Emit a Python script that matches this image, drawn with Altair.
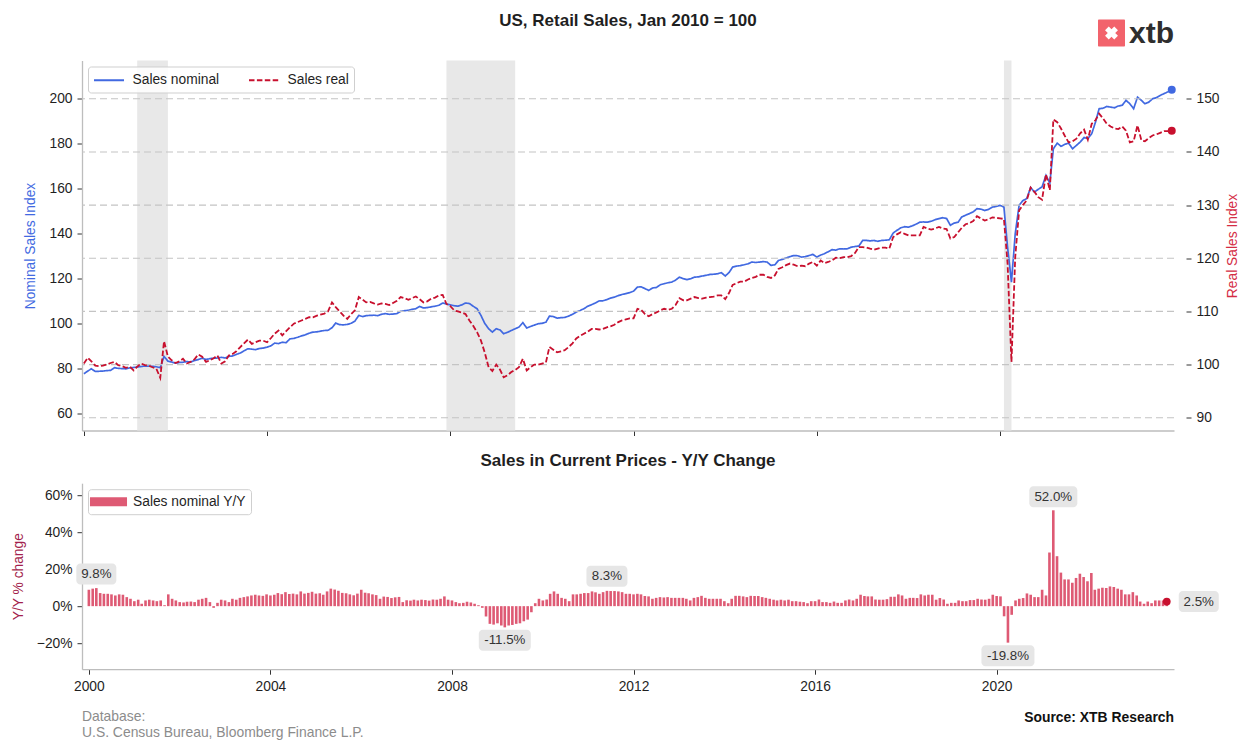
import altair as alt
import pandas as pd

# ---------------- data ----------------
# Nominal retail sales index (Jan 2010 = 100), monthly Jan 2000 .. Oct 2023
NOMINAL = [
    77.6, 78.8, 79.8, 78.6, 78.7, 78.8, 79.0, 79.1, 80.3, 80.0, 79.9, 79.8,          # 2000
    80.2, 80.4, 80.6, 80.8, 81.0, 81.0, 80.9, 80.7, 80.3, 85.3, 83.2, 82.8,          # 2001
    82.3, 82.6, 82.7, 83.0, 82.8, 83.5, 83.9, 84.5, 83.9, 84.3, 84.5, 84.6,          # 2002
    84.9, 84.6, 85.3, 85.5, 86.2, 86.8, 87.8, 88.7, 88.5, 88.3, 88.8, 89.0,          # 2003
    89.4, 90.0, 91.2, 91.0, 91.6, 91.4, 93.1, 93.3, 93.8, 94.4, 94.9, 95.6,          # 2004
    96.1, 96.2, 96.5, 96.8, 96.9, 98.0, 100.1, 99.4, 99.3, 99.5, 100.0, 101.0,       # 2005
    103.5, 103.0, 103.4, 103.5, 103.6, 103.4, 104.0, 104.3, 104.0, 104.1, 104.3, 105.3,  # 2006
    105.6, 105.8, 106.2, 106.5, 107.5, 106.8, 107.0, 107.3, 107.6, 108.0, 109.0, 108.6,  # 2007
    108.2, 107.8, 107.6, 108.2, 109.0, 108.8, 107.6, 106.5, 103.5, 100.0, 97.6, 96.1,    # 2008
    97.6, 97.0, 95.4, 96.0, 96.8, 97.6, 98.3, 100.3, 97.9, 98.6, 99.2, 99.8,             # 2009
    100.0, 100.5, 103.2, 103.0, 102.3, 102.5, 102.6, 103.2, 104.0, 105.0, 105.7, 106.5,  # 2010
    107.6, 108.3, 109.0, 109.9, 110.0, 110.5, 111.2, 111.6, 112.3, 112.8, 113.2, 113.6,  # 2011
    114.3, 116.1, 116.2, 115.4, 114.6, 115.7, 115.9, 117.1, 117.6, 118.0, 118.3, 119.2,  # 2012
    120.5, 119.8, 119.4, 119.8, 120.5, 120.6, 121.0, 121.3, 121.7, 121.8, 122.0, 122.5,  # 2013
    121.0, 122.6, 125.0, 125.4, 125.6, 126.0, 126.4, 127.2, 127.0, 127.2, 127.4, 127.2,  # 2014
    125.7, 126.0, 127.9, 128.4, 129.0, 129.6, 130.1, 130.0, 129.4, 129.6, 130.1, 130.6,  # 2015
    129.4, 130.3, 130.9, 131.8, 132.7, 132.5, 133.1, 133.0, 133.1, 133.8, 134.1, 134.3,  # 2016
    136.8, 136.8, 136.6, 136.8, 136.4, 136.8, 136.9, 137.1, 140.1, 141.3, 142.4, 142.9,  # 2017
    142.7, 143.3, 144.0, 144.9, 145.0, 144.9, 145.3, 146.0, 146.5, 146.9, 146.5, 143.5,  # 2018
    144.5, 144.9, 147.2, 148.0, 148.7, 149.5, 150.9, 150.7, 150.1, 150.6, 151.6, 151.9,  # 2019
    152.4, 151.6, 133.8, 118.3, 139.8, 152.4, 154.5, 155.4, 160.3, 158.3, 159.5, 160.6,  # 2020
    165.7, 162.3, 177.5, 180.0, 178.6, 179.5, 180.0, 177.5, 179.0, 180.5, 182.5, 182.0,  # 2021
    184.2, 189.5, 195.3, 195.5, 196.3, 196.0, 195.7, 196.5, 196.8, 199.0, 197.5, 195.3,  # 2022
    200.4, 199.0, 197.5, 198.2, 199.7, 200.2, 201.2, 202.0, 202.8, 203.7,                # 2023
]

# Real retail sales index (right axis)
REAL = [
    100.2, 101.3, 100.6, 99.8, 99.7, 99.8, 100.0, 100.3, 100.5, 99.9, 99.7, 99.4,     # 2000
    99.6, 98.9, 99.6, 100.2, 99.9, 99.8, 99.5, 99.2, 97.5, 104.4, 101.5, 100.8,       # 2001
    100.3, 100.6, 101.1, 100.2, 100.5, 101.0, 101.9, 101.5, 100.5, 100.8, 101.2, 101.7,  # 2002
    100.2, 100.6, 101.7, 102.0, 102.5, 103.3, 104.0, 104.7, 103.9, 104.2, 104.5, 104.5,  # 2003
    104.2, 105.0, 105.8, 106.4, 105.5, 106.3, 107.0, 107.7, 108.0, 108.3, 108.6, 108.9,  # 2004
    108.9, 109.2, 109.4, 109.6, 110.0, 111.7, 110.8, 110.0, 109.2, 108.6, 109.5, 110.2,  # 2005
    112.7, 112.2, 111.7, 111.8, 111.5, 111.3, 111.5, 111.4, 111.2, 111.6, 112.0, 112.7,  # 2006
    112.5, 112.2, 112.5, 112.8, 112.3, 111.7, 111.9, 112.4, 112.6, 113.0, 113.1, 111.4,  # 2007
    111.0, 110.2, 110.0, 109.8, 109.5, 108.3, 107.3, 106.1, 104.5, 102.3, 99.5, 98.8,    # 2008
    100.0, 99.0, 97.6, 98.0, 98.6, 99.0, 99.5, 101.1, 98.9, 99.5, 100.0, 100.0,          # 2009
    100.2, 100.4, 103.3, 102.8, 102.3, 102.5, 102.7, 103.3, 104.0, 104.9, 105.4, 105.8,  # 2010
    106.2, 106.7, 106.7, 106.6, 106.7, 107.0, 107.2, 107.5, 108.0, 108.3, 108.5, 108.7,  # 2011
    108.7, 110.5, 110.3, 109.5, 109.1, 109.5, 109.8, 110.2, 110.5, 110.3, 110.5, 111.2,  # 2012
    112.5, 112.1, 112.1, 112.4, 112.7, 112.5, 112.4, 112.6, 112.7, 112.8, 113.0, 113.0,  # 2013
    112.3, 113.5, 115.0, 115.3, 115.6, 115.6, 116.0, 116.3, 116.5, 116.9, 116.9, 116.5,  # 2014
    116.3, 116.8, 118.0, 118.3, 118.7, 119.0, 118.8, 118.5, 118.6, 118.5, 119.0, 119.3,  # 2015
    118.6, 119.6, 119.1, 119.3, 119.6, 120.1, 120.0, 120.2, 120.2, 120.4, 121.0, 122.1,  # 2016
    122.1, 122.0, 121.8, 121.6, 121.8, 122.0, 122.0, 121.8, 124.0, 124.5, 124.9, 124.6,  # 2017
    124.3, 124.3, 124.3, 124.3, 125.9, 125.6, 125.4, 125.6, 125.9, 125.6, 125.5, 123.7,  # 2018
    124.0, 124.9, 125.7, 126.4, 126.6, 127.0, 127.9, 127.5, 127.1, 127.3, 127.7, 127.6,  # 2019
    127.5, 127.4, 119.0, 100.5, 120.2, 129.0, 130.0, 130.9, 133.3, 132.5, 131.5, 131.0,  # 2020
    135.8, 132.8, 146.1, 145.6, 144.4, 143.0, 141.8, 142.0, 142.5, 143.5, 144.2, 142.3,  # 2021
    145.3, 146.0, 147.2, 146.3, 145.3, 144.8, 144.4, 144.3, 144.8, 144.0, 141.8, 142.0,  # 2022
    145.0, 142.2, 142.0, 142.6, 143.1, 143.3, 143.6, 143.9, 143.9, 144.0,                # 2023
]

# Nominal sales, year-over-year change in %
YOY = [
    8.9, 9.5, 9.8, 7.1, 6.7, 6.7, 6.4, 5.8, 6.4, 6.2, 4.9, 4.0,            # 2000
    2.7, 3.5, 1.3, 3.1, 3.5, 3.1, 2.7, 3.1, 0.5, 6.4, 4.0, 3.1,            # 2001
    2.2, 2.0, 2.4, 2.5, 2.2, 3.5, 4.0, 4.5, 2.2, -0.9, 1.8, 3.5,           # 2002
    3.1, 2.2, 4.0, 3.5, 4.5, 4.9, 5.3, 5.8, 6.2, 5.8, 5.6, 6.4,            # 2003
    5.8, 6.2, 7.1, 6.5, 7.6, 6.6, 6.8, 6.4, 8.0, 6.8, 7.2, 7.8,            # 2004
    6.8, 7.0, 6.2, 8.0, 9.5, 9.0, 8.4, 7.2, 7.0, 6.4, 5.9, 6.8,            # 2005
    8.9, 7.3, 7.0, 6.4, 6.0, 4.0, 5.2, 5.0, 4.4, 4.8, 5.0, 2.2,            # 2006
    3.2, 3.0, 3.5, 3.1, 3.5, 3.3, 3.0, 3.6, 3.5, 4.0, 5.3, 3.5,            # 2007
    3.1, 2.2, 1.6, 1.8, 2.4, 2.0, 1.3, 0.5, -0.9, -5.6, -9.6, -10.0,       # 2008
    -9.3, -10.5, -11.5, -10.5, -10.2, -9.6, -9.3, -8.2, -7.3, -3.3, 1.6, 4.0,  # 2009
    3.1, 3.6, 6.7, 8.0, 6.7, 4.5, 4.0, 2.7, 6.4, 6.4, 6.7, 7.1,            # 2010
    7.1, 8.0, 7.5, 6.7, 7.6, 8.3, 8.2, 8.2, 8.0, 7.6, 6.7, 6.7,            # 2011
    6.4, 6.7, 6.4, 5.5, 5.3, 4.0, 4.5, 4.9, 4.7, 4.9, 4.5, 4.5,            # 2012
    4.5, 4.5, 4.0, 3.1, 4.5, 4.9, 5.6, 4.5, 4.0, 4.0, 4.0, 4.0,            # 2013
    2.7, 1.6, 4.0, 5.6, 5.6, 5.3, 4.9, 5.6, 5.5, 5.5, 4.9, 4.5,            # 2014
    4.0, 3.5, 3.1, 3.5, 3.1, 3.5, 2.7, 2.7, 2.4, 2.2, 1.6, 2.7,            # 2015
    2.7, 3.6, 2.2, 2.2, 1.8, 2.5, 1.8, 1.8, 3.1, 3.6, 3.1, 4.0,            # 2016
    6.2, 5.5, 5.3, 5.3, 3.6, 3.5, 3.5, 3.8, 5.1, 5.1, 6.4, 5.8,            # 2017
    4.0, 4.5, 4.5, 4.4, 6.4, 5.8, 6.2, 6.2, 3.5, 4.4, 3.6, 1.3,            # 2018
    1.8, 1.8, 3.1, 2.7, 2.7, 3.3, 3.3, 4.0, 3.6, 3.5, 4.0, 6.2,            # 2019
    5.5, 5.3, -5.5, -19.8, -4.7, 3.1, 4.0, 4.4, 6.9, 6.2, 4.9, 4.9,        # 2020
    8.9, 5.8, 29.1, 52.0, 27.1, 18.2, 14.5, 14.5, 12.7, 15.3, 17.6, 15.8,  # 2021
    13.5, 18.0, 8.9, 9.5, 10.0, 9.8, 10.7, 10.4, 9.5, 8.9, 6.4, 6.4,       # 2022
    7.6, 5.8, 2.5, 1.3, 2.5, 1.6, 3.1, 3.1, 3.1, 2.5,                      # 2023
]

MONTHS = [f"{2000 + i // 12}-{i % 12 + 1:02d}-01" for i in range(len(NOMINAL))]

RECESSION_START = ["2001-03-01", "2007-12-01", "2020-02-01"]
RECESSION_END = ["2001-11-01", "2009-06-01", "2020-04-01"]

LEFT_TICKS = [60, 80, 100, 120, 140, 160, 180, 200]
RIGHT_TICKS = [90, 100, 110, 120, 130, 140, 150]
YOY_TICKS = [-20, 0, 20, 40, 60]
X_TICK_YEARS = [2000, 2004, 2008, 2012, 2016, 2020]

SERIES_TOP = ["Sales nominal", "Sales real"]
SERIES_BOT = ["Sales nominal Y/Y"]

# months whose Y/Y value is labelled
ANNOT_IDX = [2, 110, 137, 243, 255, 285]

TITLE = "US, Retail Sales, Jan 2010 = 100"
SUBTITLE = "Sales in Current Prices - Y/Y Change"
FOOT_1 = "Database:"
FOOT_2 = "U.S. Census Bureau, Bloomberg Finance L.P."
SOURCE = "Source: XTB Research"

# ---------------- styling ----------------
FONT = "Liberation Sans"
W = 1092
H_TOP = 370
H_BOT = 186
BLUE = "#4169e1"
RED = "#c8102e"
BAR = "#de5a74"
ANNOT_DX = [0, 0, 0, 0, 0, 32]
ANNOT_DY = [-14, 13, -14.5, 13, -13.5, 0]
ANNOT_W = [40, 52, 41, 53, 48, 40]

df = pd.DataFrame({"date": MONTHS, "nominal": NOMINAL, "real": REAL, "yoy": YOY})
df_nom = df.assign(series=SERIES_TOP[0])
df_real = df.assign(series=SERIES_TOP[1])
df_bar = df.assign(series=SERIES_BOT[0])

x_scale = alt.Scale(
    type="utc",
    domain=[alt.DateTime(year=1999, month=12, date=17, utc=True),
            alt.DateTime(year=2023, month=10, date=19, utc=True)],
)
x_vals = [alt.DateTime(year=y, month=1, date=1, utc=True) for y in X_TICK_YEARS]

top_x_axis = alt.Axis(values=x_vals, labels=False, title=None, grid=False, tickSize=5)
bot_x_axis = alt.Axis(values=x_vals, format="%Y", title=None, grid=False, tickSize=5,
                      labelPadding=5, labelFlush=False)

# ---------------- top panel ----------------
y_nom = alt.Y(
    "nominal:Q",
    scale=alt.Scale(domain=[52.4, 216.7], nice=False, zero=False),
    axis=alt.Axis(orient="left", values=LEFT_TICKS, title="Nominal Sales Index",
                  titleColor=BLUE, titlePadding=11, grid=False, tickSize=5, labelPadding=5),
)
real_scale = alt.Scale(domain=[87.6, 157.2], nice=False, zero=False)
real_axis = alt.Axis(orient="right", values=RIGHT_TICKS, title="Real Sales Index",
                     titleColor="#d42c44", titleAngle=270, titleBaseline="top",
                     titlePadding=6, offset=12, domain=False, grid=False, tickSize=5,
                     labelPadding=5)

leg_top = alt.Legend(title=None, orient="top-left", direction="horizontal", offset=6,
                     padding=5, strokeColor="#cfcfcf", fillColor="rgba(255,255,255,0.85)",
                     cornerRadius=3, symbolType="M-2,0H2", symbolSize=225,
                     symbolStrokeWidth=2, symbolOffset=7.5, labelFontSize=13.8,
                     labelColor="#1f1f1f", labelOffset=15, columnPadding=25)
color_top = alt.Color("series:N", scale=alt.Scale(domain=SERIES_TOP, range=[BLUE, RED]),
                      legend=leg_top)
dash_top = alt.StrokeDash("series:N",
                          scale=alt.Scale(domain=SERIES_TOP, range=[[1, 0], [5.5, 2.4]]),
                          legend=leg_top)

shade = alt.Chart(pd.DataFrame({"start": RECESSION_START, "end": RECESSION_END})).mark_rect(
    color="#e8e8e8").encode(
    x=alt.X("start:T", scale=x_scale, axis=top_x_axis), x2="end:T",
    y=alt.value(0), y2=alt.value(H_TOP))

nom_line = alt.Chart(df_nom).mark_line(strokeWidth=1.7).encode(
    x=alt.X("date:T", scale=x_scale, axis=top_x_axis), y=y_nom,
    color=color_top, strokeDash=dash_top)
nom_dot = alt.Chart(df_nom.tail(1)).mark_circle(size=64, opacity=1).encode(
    x=alt.X("date:T", scale=x_scale, axis=top_x_axis), y=y_nom, color=alt.value(BLUE))

grid = alt.Chart(pd.DataFrame({"tick": RIGHT_TICKS})).mark_rule(
    color="#c4c4c4", strokeWidth=1.1, strokeDash=[7, 4]).encode(
    y=alt.Y("tick:Q", scale=real_scale, axis=real_axis))
real_line = alt.Chart(df_real).mark_line(strokeWidth=1.8).encode(
    x=alt.X("date:T", scale=x_scale, axis=top_x_axis),
    y=alt.Y("real:Q", scale=real_scale, axis=real_axis),
    color=color_top, strokeDash=dash_top)
real_dot = alt.Chart(df_real.tail(1)).mark_circle(size=64, opacity=1).encode(
    x=alt.X("date:T", scale=x_scale, axis=top_x_axis),
    y=alt.Y("real:Q", scale=real_scale, axis=real_axis), color=alt.value(RED))


def txt(text, x, y, size=13, weight="normal", color="#1f1f1f", align="left",
        baseline="alphabetic"):
    return alt.Chart(pd.DataFrame({"t": [text]})).mark_text(
        align=align, baseline=baseline, fontSize=size, fontWeight=weight,
        color=color, font=FONT).encode(x=alt.value(x), y=alt.value(y), text="t:N")


title_txt = txt(TITLE, W / 2, -35, size=17, weight="bold", align="center")
logo_box = alt.Chart(pd.DataFrame({"t": ["xtb"]})).mark_rect(
    color="#f2636c", cornerRadius=1).encode(
    x=alt.value(1016), x2=alt.value(1043), y=alt.value(-41), y2=alt.value(-14))
logo_icon = alt.Chart(pd.DataFrame({"t": ["xtb"]})).mark_point(
    shape="cross", angle=45, filled=True, size=170, color="white", opacity=1).encode(
    x=alt.value(1029.5), y=alt.value(-27.5))
logo_txt = txt("xtb", 1047, -18, size=30, weight="bold", color="#2e2e2e")

top = alt.layer(
    shade,
    alt.layer(nom_line, nom_dot),
    alt.layer(grid, real_line, real_dot),
    title_txt, logo_box, logo_icon, logo_txt,
).resolve_scale(y="independent").properties(width=W, height=H_TOP)

# ---------------- bottom panel ----------------
y_bot = alt.Y(
    "yoy:Q", stack=None,
    scale=alt.Scale(domain=[-34.2, 66.7], nice=False, zero=False),
    axis=alt.Axis(values=YOY_TICKS, labelExpr="format(datum.value, 'd') + '%'",
                  title="Y/Y % change", titleColor="#a31f4d", titlePadding=11,
                  grid=False, tickSize=5, labelPadding=5),
)
x_bot = alt.X("date:T", scale=x_scale, axis=bot_x_axis)

leg_bot = alt.Legend(title=None, orient="top-left", offset=6, padding=5,
                     strokeColor="#cfcfcf", fillColor="rgba(255,255,255,0.85)",
                     cornerRadius=3, symbolType="M-2.47,-0.6H2.47V0.6H-2.47Z",
                     symbolSize=225, symbolOffset=8, symbolStrokeWidth=0,
                     labelFontSize=13.8, labelColor="#1f1f1f", labelOffset=17)
bars = alt.Chart(df_bar).mark_bar(size=2.6).encode(
    x=x_bot, y=y_bot,
    color=alt.Color("series:N", scale=alt.Scale(domain=SERIES_BOT, range=[BAR]),
                    legend=leg_bot))
bot_dot = alt.Chart(df_bar.tail(1)).mark_circle(size=60, opacity=1, color=RED).encode(
    x=x_bot, y=y_bot)

ann_layers = []
for k, i in enumerate(ANNOT_IDX):
    d = pd.DataFrame({"date": [MONTHS[i]], "yoy": [YOY[i]], "label": [f"{YOY[i]:.1f}%"]})
    ann_layers.append(alt.Chart(d).mark_rect(
        width=ANNOT_W[k], height=21, cornerRadius=4, color="#e6e6e6",
        xOffset=ANNOT_DX[k], yOffset=ANNOT_DY[k]).encode(x=x_bot, y=y_bot))
    ann_layers.append(alt.Chart(d).mark_text(
        dx=ANNOT_DX[k], dy=ANNOT_DY[k], fontSize=13.3, color="#333333", font=FONT,
        baseline="middle", align="center").encode(x=x_bot, y=y_bot, text="label:N"))

sub_txt = txt(SUBTITLE, W / 2, -17.2, size=17, weight="bold", align="center")
foot1 = txt(FOOT_1, 0, 237.8, size=13.9, color="#8c8c8c")
foot2 = txt(FOOT_2, 0, 253.3, size=13.9, color="#8c8c8c")
src = txt(SOURCE, W, 238.3, size=13.9, weight="bold", color="#111111", align="right")

bottom = alt.layer(bars, bot_dot, *ann_layers, sub_txt, foot1, foot2, src).properties(
    width=W, height=H_BOT)

chart = alt.vconcat(top, bottom, spacing=52.7, bounds="flush").resolve_scale(
    color="independent", strokeDash="independent").resolve_legend(
    color="independent", strokeDash="independent").properties(
    padding={"left": 3, "top": 3.5, "right": 5, "bottom": 5}
).configure(font=FONT).configure_view(stroke=None).configure_axis(
    labelFont=FONT, titleFont=FONT, labelFontSize=13.8, titleFontSize=13.8,
    titleFontWeight="normal", labelColor="#1f1f1f", tickColor="#333333", tickWidth=1,
    domainColor="#bdbdbd", domainWidth=1.3,
).configure_legend(labelFont=FONT)

chart.save("out.html", embed_options={"renderer": "svg", "actions": False})
